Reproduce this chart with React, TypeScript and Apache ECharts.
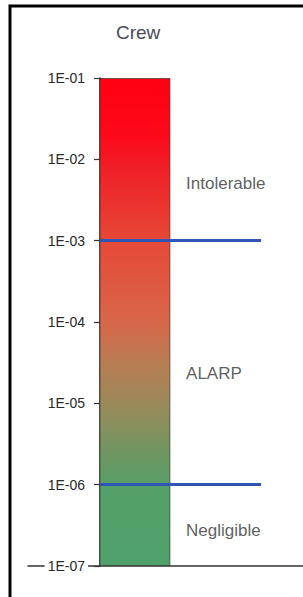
import React, { useEffect, useRef } from "react";
import * as echarts from "echarts";

const categories = ["c0", "c1", "c2", "Crew", "c4", "zone", "c6", "c7", "c8"];
const barValues = ["-", "-", "-", 0.1, "-", "-", "-", "-", "-"];
const tickLabels = ["1E-07", "1E-06", "1E-05", "1E-04", "1E-03", "1E-02", "1E-01"];
const thresholds = [1e-3, 1e-6];
const zoneNames = ["Intolerable", "ALARP", "Negligible"];
const zoneValues = [5.1e-3, 2.3e-5, 2.75e-7];
const titleText = "Crew";

export default function App() {
  const ref = useRef<HTMLDivElement>(null);
  useEffect(() => {
    const chart = echarts.init(ref.current!, null, { renderer: "svg" });
    const grad = new echarts.graphic.LinearGradient(0, 0, 0, 1, [
      { offset: 0, color: "#ff0012" },
      { offset: 0.12, color: "#fc0a1a" },
      { offset: 0.18, color: "#f01e26" },
      { offset: 0.34, color: "#e64a38" },
      { offset: 0.5, color: "#d8664a" },
      { offset: 0.58, color: "#ba7c52" },
      { offset: 0.67, color: "#9a8a5a" },
      { offset: 0.77, color: "#6f9660" },
      { offset: 0.84, color: "#55a068" },
      { offset: 1, color: "#4fa06a" },
    ]);
    chart.setOption({
      animation: false,
      backgroundColor: "#ffffff",
      title: {
        text: titleText,
        left: 111,
        top: 18,
        textStyle: { fontFamily: "Arial", fontSize: 19, fontWeight: "normal", color: "#4a4a5e" },
      },
      graphic: [
        {
          type: "rect",
          shape: { x: 10, y: 6, width: 400, height: 700 },
          style: { fill: "none", stroke: "#000", lineWidth: 3 },
          silent: true,
        },
      ],
      grid: { left: 28, right: 0, top: 78, bottom: 31, containLabel: false },
      xAxis: {
        type: "category",
        data: categories,
        boundaryGap: true,
        axisLine: { show: true, lineStyle: { color: "#333", width: 1.5 } },
        axisTick: { show: false },
        axisLabel: { show: false },
        splitLine: { show: false },
      },
      yAxis: {
        type: "log",
        logBase: 10,
        min: 1e-7,
        max: 0.1,
        startValue: 1e-7,
        splitNumber: 6,
        offset: -72,
        axisLine: { show: true, lineStyle: { color: "#222", width: 1.5 } },
        axisTick: { show: true, length: 6, lineStyle: { color: "#333", width: 1.2 } },
        axisLabel: {
          margin: 12,
          fontFamily: "Arial",
          fontSize: 14,
          color: "#2a2a2a",
          backgroundColor: "#fff",
          padding: [0, 3],
          formatter: (v: number) => tickLabels[Math.round(Math.log10(v)) + 7] ?? "",
        },
        splitLine: { show: false },
      },
      series: [
        {
          type: "bar",
          data: barValues,
          barWidth: 71,
          itemStyle: { color: grad, borderColor: "rgba(40,40,40,0.6)", borderWidth: 1 },
          markLine: {
            silent: true,
            symbol: "none",
            label: { show: false },
            lineStyle: { color: "#2f55b5", width: 3, type: "solid" },
            data: thresholds.map((t) => [
              { yAxis: t, x: 100 },
              { yAxis: t, x: 261 },
            ]),
          },
        },
        {
          type: "scatter",
          symbolSize: 1,
          itemStyle: { color: "rgba(0,0,0,0)" },
          data: zoneValues.map((v, i) => ({ name: zoneNames[i], value: ["zone", v] })),
          label: {
            show: true,
            formatter: "{b}",
            position: "inside",
            align: "left",
            verticalAlign: "middle",
            offset: [-10, 0],
            fontFamily: "Arial",
            fontSize: 17,
            color: "#333",
          },
        },
      ],
    });
    return () => chart.dispose();
  }, []);
  return (
    <div
      ref={ref}
      style={{ position: "absolute", left: 0, top: 0, width: 303, height: 597, background: "#fff" }}
    />
  );
}
